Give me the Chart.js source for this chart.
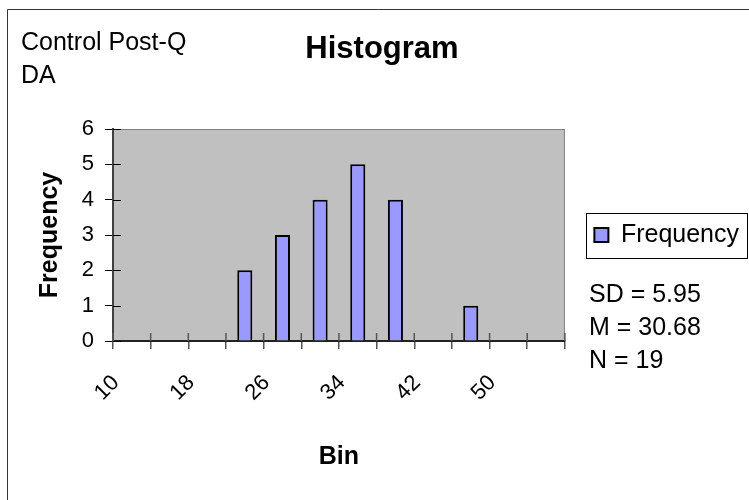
<!DOCTYPE html>
<html><head><meta charset="utf-8">
<script src="https://cdn.jsdelivr.net/npm/chart.js@4"></script>
<style>html,body{margin:0;padding:0;background:#fff;}canvas{display:block;}</style>
</head><body>
<canvas id="c" width="749" height="500"></canvas>
<script>
const bins = ['10','14','18','22','26','30','34','38','42','46','50','More'];
const frequency = [0,0,0,2,3,4,5,4,0,1,0,0];
const yTicks = [0,1,2,3,4,5,6];
const chartTitle = 'Histogram';
const noteLines = ['Control Post-Q', 'DA'];
const statLines = ['SD = 5.95', 'M = 30.68', 'N = 19'];
const seriesName = 'Frequency';
const xTitle = 'Bin';
const yTitle = 'Frequency';

const FONT = '"Liberation Sans", Arial, sans-serif';

const decor = {
  id: 'decor',
  beforeDraw(chart) {
    const ctx = chart.ctx, a = chart.chartArea;
    ctx.save();
    ctx.fillStyle = '#fff'; ctx.fillRect(0, 0, chart.width, chart.height);
    ctx.strokeStyle = '#333'; ctx.lineWidth = 1;
    ctx.beginPath(); ctx.moveTo(7.5, chart.height); ctx.lineTo(7.5, 9.5); ctx.lineTo(chart.width, 9.5); ctx.stroke();
    ctx.fillStyle = '#C0C0C0'; ctx.fillRect(a.left, a.top, a.right - a.left, a.bottom - a.top);
    ctx.strokeStyle = '#808080'; ctx.lineWidth = 1;
    ctx.strokeRect(a.left + 0.5, a.top + 0.5, a.right - a.left - 1, a.bottom - a.top);
    ctx.restore();
  },
  beforeDatasetsDraw(chart) {
    // inner halves of the cross tick marks
    const ctx = chart.ctx, a = chart.chartArea;
    const xs = chart.scales.x, ys = chart.scales.y;
    ctx.save();
    ctx.strokeStyle = '#000'; ctx.lineWidth = 1;
    ctx.beginPath();
    yTicks.forEach(v => {
      const y = Math.round(ys.getPixelForValue(v)) + 0.5;
      ctx.moveTo(a.left, y); ctx.lineTo(a.left + 8, y);
    });
    ctx.stroke();
    ctx.strokeStyle = '#555'; ctx.lineWidth = 1.5;
    ctx.beginPath();
    for (let i = 0; i <= bins.length; i++) {
      const x = xs.getPixelForValue(i - 0.5);
      ctx.moveTo(x, a.bottom); ctx.lineTo(x, a.bottom - 8);
    }
    ctx.stroke();
    ctx.restore();
  },
  afterDraw(chart) {
    const ctx = chart.ctx;
    ctx.save();
    ctx.fillStyle = '#000';
    ctx.textBaseline = 'alphabetic';
    ctx.font = 'bold 31px ' + FONT;
    ctx.textAlign = 'center';
    ctx.fillText(chartTitle, 382, 58);
    ctx.font = '25px ' + FONT;
    ctx.textAlign = 'left';
    noteLines.forEach((t, i) => ctx.fillText(t, 21, 50 + i * 33));
    statLines.forEach((t, i) => ctx.fillText(t, 589, 301.5 + i * 33));
    const lg = chart.legend;
    if (lg && lg.legendHitBoxes && lg.legendHitBoxes.length) {
      const h = lg.legendHitBoxes[0];
      ctx.strokeStyle = '#000'; ctx.lineWidth = 1;
      ctx.strokeRect(Math.round(h.left - 8) + 0.5, Math.round(h.top - 10) + 0.5, Math.round(h.width + 16), Math.round(h.height + 20));
    }
    ctx.restore();
  }
};

new Chart(document.getElementById('c'), {
  type: 'bar',
  data: {
    labels: bins,
    datasets: [{
      label: seriesName,
      data: frequency,
      backgroundColor: '#9999FF',
      borderColor: '#000',
      borderWidth: 2,
      borderSkipped: 'start',
      barPercentage: 0.4,
      categoryPercentage: 1.0
    }]
  },
  options: {
    responsive: false,
    animation: false,
    devicePixelRatio: 1,
    layout: { padding: { top: 129, bottom: 9, left: 0, right: 0 } },
    plugins: {
      title: { display: false },
      tooltip: { enabled: false },
      legend: {
        position: 'right',
        fullSize: false,
        labels: {
          boxWidth: 14, boxHeight: 14, padding: 29.5,
          color: '#000',
          font: { family: FONT, size: 25 }
        }
      }
    },
    scales: {
      x: {
        offset: true,
        grid: { display: true, drawOnChartArea: false, offset: true, tickLength: 8, color: '#555', lineWidth: 1.5 },
        border: { display: true, color: '#222', width: 2 },
        ticks: {
          autoSkip: false, minRotation: 45, maxRotation: 45, labelOffset: -16, padding: 21,
          color: '#000', font: { family: FONT, size: 22 },
          callback: (v, i) => (i % 2 === 0 ? bins[i] : '')
        },
        title: { display: true, text: xTitle, color: '#000', font: { family: FONT, size: 25, weight: 'bold' }, padding: { top: 0, bottom: 19 } },
        afterFit: s => { s.height = 150; }
      },
      y: {
        min: 0, max: 6,
        afterBuildTicks: s => { s.ticks = yTicks.map(v => ({ value: v })); },
        ticks: { padding: 11, color: '#000', font: { family: FONT, size: 22 } },
        grid: { drawOnChartArea: false, tickLength: 8, color: '#000', lineWidth: 1 },
        border: { color: '#404040', width: 2 },
        title: { display: true, text: yTitle, color: '#000', font: { family: FONT, size: 25, weight: 'bold' }, padding: { top: 35, bottom: 0 } },
        afterFit: s => { s.width = 113; }
      }
    }
  },
  plugins: [decor]
});
</script>
</body></html>
